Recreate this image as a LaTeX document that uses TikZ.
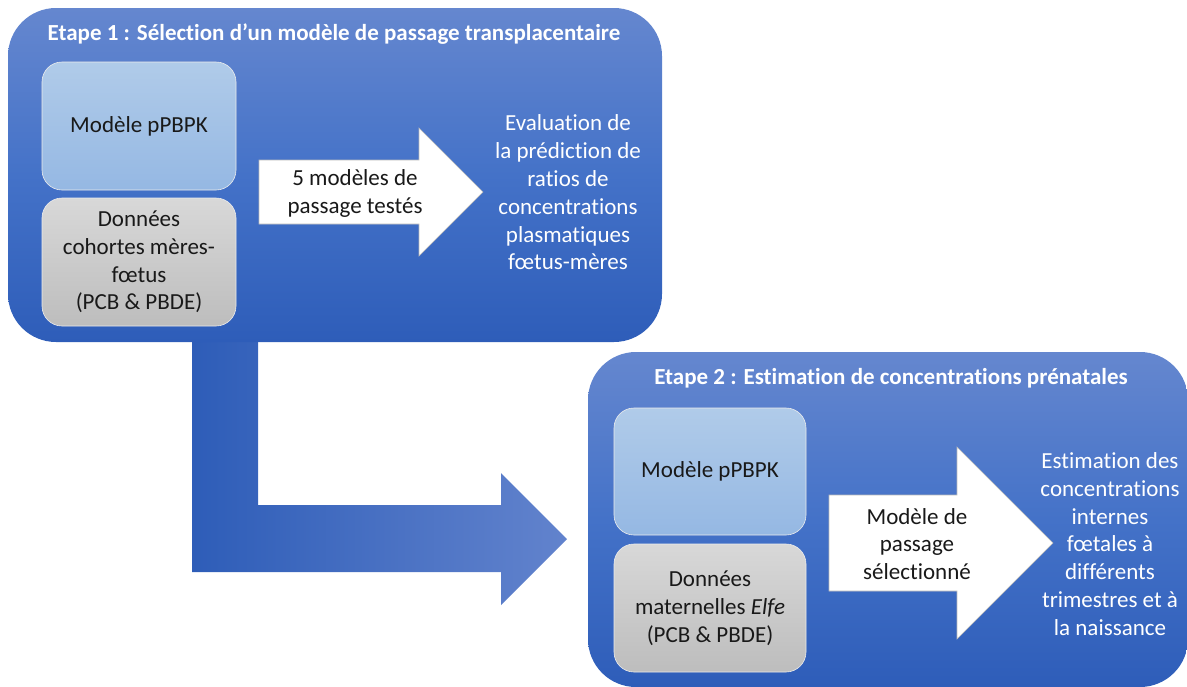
\documentclass[tikz,border=0pt]{standalone}
\usepackage{fontspec}
\setmainfont[Ligatures=CommonOff]{Carlito}
\begin{document}
\begin{tikzpicture}[x=1pt,y=-1pt,
  bigbox/.style={rounded corners=48pt, top color=boxtop, bottom color=boxbot, middle color=boxmid, draw=none, inner sep=0pt},
  bluebox/.style={rounded corners=20pt, top color=lbtop, bottom color=lbbot, draw=white!85!gray, line width=0.6pt, inner sep=0pt, minimum width=194pt, minimum height=128pt},
  graybox/.style={rounded corners=20pt, top color=grtop, bottom color=grbot, draw=white!85!gray, line width=0.6pt, inner sep=0pt, minimum width=194pt, minimum height=128pt},
  bodytxt/.style={font=\fontsize{23}{27.8}\selectfont, align=center, text=black!90, inner sep=0pt},
  whitetxt/.style={font=\fontsize{23}{27.8}\selectfont, align=center, text=white, inner sep=0pt},
  titletxt/.style={font=\fontsize{23}{27}\selectfont\bfseries, text=white, inner sep=0pt},
  whitearrow/.style={fill=white, draw=gray!55, line width=0.6pt},
]
\definecolor{boxtop}{HTML}{6587CF}
\definecolor{boxmid}{HTML}{4472C8}
\definecolor{boxbot}{HTML}{2E5DB9}
\definecolor{lbtop}{HTML}{B0CBE9}
\definecolor{lbbot}{HTML}{95B8E3}
\definecolor{grtop}{HTML}{D8D8D8}
\definecolor{grbot}{HTML}{BDBDBD}
\definecolor{ltleft}{HTML}{2E5DB8}
\definecolor{ltright}{HTML}{6283CD}
\useasboundingbox (0,0) rectangle (1187,686);

% L-shaped connector arrow (behind boxes)
\coordinate (lend) at (567,539);
\path[left color=ltleft, right color=ltright, draw=none]
  (192,300) -- (258,300) -- (258,505) -- (501,505) -- (501,473) -- (lend)
  -- (501,605) -- (501,572) -- (192,572) -- cycle;

% big boxes
\node[bigbox, minimum width=654pt, minimum height=334pt] (step1) at (335,175) {};
\node[bigbox, minimum width=600pt, minimum height=335pt] (step2) at (888,519.5) {};

% titles
\node[titletxt] (t1) at (334,34) {Etape 1 : Sélection d’un modèle de passage transplacentaire};
\node[titletxt] (t2) at (891,378) {Etape 2 : Estimation de concentrations prénatales};

% step 1 content
\node[bluebox] (m1) at (139,126) {};
\node[bodytxt] at (m1) {Modèle pPBPK};
\node[graybox] (d1) at (139,262) {};
\node[bodytxt] at (d1) {Données\\cohortes mères-\\fœtus\\(PCB \& PBDE)};
\draw[whitearrow] (259,160) -- (419,160) -- (419,128) -- (483,192) -- (419,256) -- (419,224) -- (259,224) -- cycle;
\node[bodytxt] (a1) at (355,193.5) {5 modèles de\\passage testés};
\node[whitetxt] (r1) at (568,192.5) {Evaluation de\\la prédiction de\\ratios de\\concentrations\\plasmatiques\\fœtus-mères};

% step 2 content
\node[bluebox, minimum width=192pt, minimum height=127pt] (m2) at (710,471.5) {};
\node[bodytxt] at (m2) {Modèle pPBPK};
\node[graybox, minimum width=192pt] (d2) at (710,608) {};
\node[bodytxt] at (d2) {Données\\maternelles \textit{Elfe}\\(PCB \& PBDE)};
\draw[whitearrow] (829,495) -- (957,495) -- (957,447) -- (1053,543) -- (957,639) -- (957,591) -- (829,591) -- cycle;
\node[bodytxt] (a2) at (917,544) {Modèle de\\passage\\sélectionné};
\node[whitetxt] (r2) at (1110,544) {Estimation des\\concentrations\\internes\\fœtales à\\différents\\trimestres et à\\la naissance};
\end{tikzpicture}
\end{document}
